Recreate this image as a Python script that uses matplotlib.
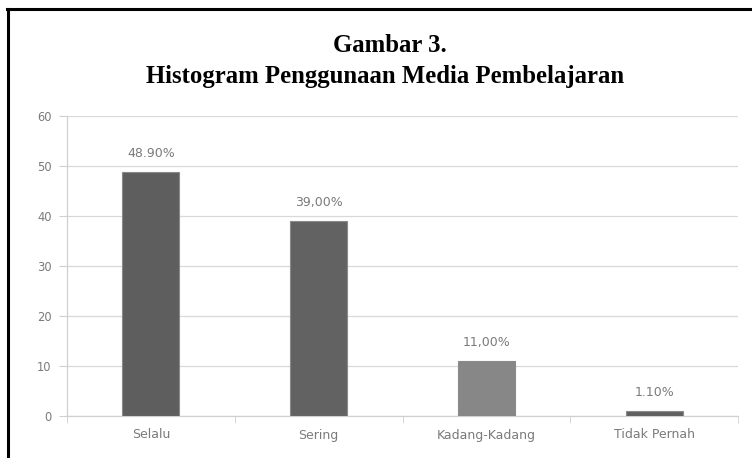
import matplotlib
matplotlib.use("Agg")
import matplotlib.pyplot as plt
from matplotlib.lines import Line2D

categories = ["Selalu", "Sering", "Kadang-Kadang", "Tidak Pernah"]
values = [48.9, 39.0, 11.0, 1.1]
value_labels = ["48.90%", "39,00%", "11,00%", "1.10%"]
bar_colors = ["#5e5e5e", "#626262", "#878787", "#606060"]
y_ticks = [0, 10, 20, 30, 40, 50, 60]
title_lines = ["Gambar 3.", "Histogram Penggunaan Media Pembelajaran"]

W, H = 752, 458
fig = plt.figure(figsize=(W / 100, H / 100), dpi=100)
fig.patch.set_facecolor("white")

ax = fig.add_axes([67 / W, 1 - 416 / H, (738 - 67) / W, (416 - 116) / H])
x = list(range(len(categories)))
bars = ax.bar(x, values, width=0.34, color=bar_colors, edgecolor="#8a8a8a",
              linewidth=0.8, zorder=3)
ax.set_xlim(-0.5, len(categories) - 0.5)
ax.set_ylim(0, 60)
ax.set_yticks(y_ticks)
ax.set_yticklabels([str(t) for t in y_ticks])
ax.set_xticks(x)
ax.set_xticklabels(categories)
ax.grid(axis="y", color="#d9d9d9", linewidth=0.9, zorder=0)
ax.set_axisbelow(True)

for s in ["top", "right"]:
    ax.spines[s].set_visible(False)
for s in ["left", "bottom"]:
    ax.spines[s].set_color("#d0d0d0")
    ax.spines[s].set_linewidth(0.9)

ax.tick_params(axis="y", length=6, color="#d0d0d0", labelcolor="#7a7a7a",
               labelsize=8.3, pad=5)
ax.tick_params(axis="x", length=0, labelcolor="#7a7a7a", labelsize=9, pad=9)
ax.set_xticks([i - 0.5 for i in range(len(categories) + 1)], minor=True)
ax.tick_params(axis="x", which="minor", length=5, color="#d0d0d0")

for xi, v, lab in zip(x, values, value_labels):
    ax.annotate(lab, (xi, v), xytext=(0, 8.5), textcoords="offset points",
                ha="center", va="bottom", fontsize=9, color="#7a7a7a")

fig.text(0.518, 1 - 45 / H, title_lines[0], ha="center", va="center",
         fontsize=17.8, fontweight="bold", family="Liberation Serif")
fig.text(0.512, 1 - 77 / H, title_lines[1], ha="center", va="center",
         fontsize=17.8, fontweight="bold", family="Liberation Serif")

# frame lines (top and left only)
fig.add_artist(Line2D([7 / W, 1.0], [1 - 9 / H, 1 - 9 / H], color="black",
                      linewidth=2.2, transform=fig.transFigure))
fig.add_artist(Line2D([8 / W, 8 / W], [0, 1 - 9 / H], color="black",
                      linewidth=2.2, transform=fig.transFigure))

fig.savefig("out.png", dpi=100)
